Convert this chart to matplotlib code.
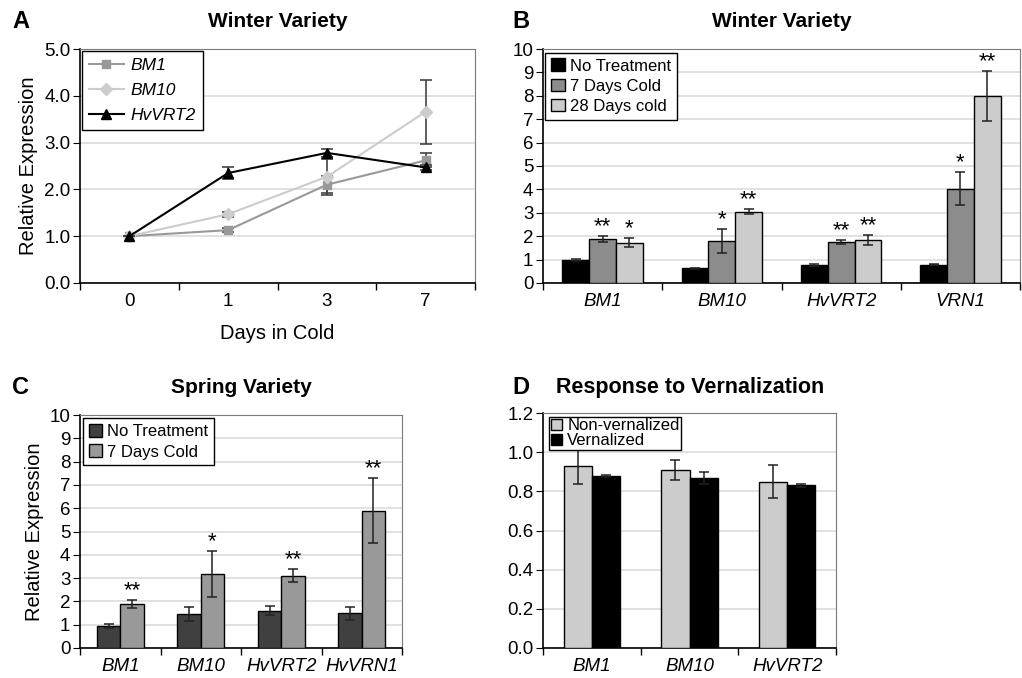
import numpy as np
import matplotlib
matplotlib.use('Agg')
import matplotlib.pyplot as plt
from matplotlib.lines import Line2D

plt.rcParams['font.family'] = ['Liberation Sans', 'DejaVu Sans']

W, H = 1022, 678

# ---- Panel A: time course, winter variety ----
days = ['0', '1', '3', '7']
a_bm1 = [1.0, 1.13, 2.10, 2.62]
a_bm1_err = [0.0, 0.05, 0.18, 0.15]
a_bm10 = [1.0, 1.47, 2.27, 3.66]
a_bm10_err = [0.0, 0.05, 0.38, 0.68]
a_vrt2 = [1.0, 2.35, 2.78, 2.47]
a_vrt2_err = [0.0, 0.12, 0.08, 0.05]

# ---- Panel B: winter variety bars ----
b_genes = ['BM1', 'BM10', 'HvVRT2', 'VRN1']
b_none = [0.97, 0.63, 0.78, 0.78]
b_none_err = [0.05, 0.03, 0.05, 0.03]
b_7d = [1.87, 1.80, 1.75, 4.03]
b_7d_err = [0.13, 0.50, 0.10, 0.70]
b_28d = [1.73, 3.05, 1.83, 8.00]
b_28d_err = [0.18, 0.12, 0.22, 1.08]
b_7d_sig = ['**', '*', '**', '*']
b_28d_sig = ['*', '**', '**', '**']

# ---- Panel C: spring variety bars ----
c_genes = ['BM1', 'BM10', 'HvVRT2', 'HvVRN1']
c_none = [0.93, 1.45, 1.60, 1.50]
c_none_err = [0.08, 0.30, 0.20, 0.28]
c_7d = [1.87, 3.17, 3.10, 5.90]
c_7d_err = [0.17, 1.00, 0.27, 1.40]
c_7d_sig = ['**', '*', '**', '**']

# ---- Panel D: response to vernalization ----
d_genes = ['BM1', 'BM10', 'HvVRT2']
d_nonvern = [0.93, 0.91, 0.85]
d_nonvern_err = [0.09, 0.05, 0.085]
d_vern = [0.88, 0.87, 0.83]
d_vern_err = [0.005, 0.03, 0.008]


def px_axes(fig, left, top, right, bottom):
    return fig.add_axes([left / W, 1 - bottom / H, (right - left) / W, (bottom - top) / H])


def style_axes(ax, n, labels, italic=True):
    ax.set_xlim(-0.5, n - 0.5)
    ax.set_xticks(np.arange(n))
    ax.set_xticklabels(labels, fontsize=13.5, style='italic' if italic else 'normal')
    ax.set_xticks(np.arange(n + 1) - 0.5, minor=True)
    ax.tick_params(axis='x', which='major', length=0, pad=7)
    ax.tick_params(axis='x', which='minor', length=5, direction='out', width=1)
    ax.tick_params(axis='y', which='major', length=5, direction='out', labelsize=13.5, pad=2)
    ax.yaxis.grid(True, color='#dcdcdc', linewidth=1.2)
    ax.set_axisbelow(True)
    for s in ('top', 'right'):
        ax.spines[s].set_color('#7a7a7a')
    for s in ('left', 'bottom'):
        ax.spines[s].set_color('black')
        ax.spines[s].set_linewidth(1.2)


def box_legend(ax, x0, size, **kw):
    leg = ax.legend(loc='upper left', bbox_to_anchor=(x0, 0.985), fontsize=size, fancybox=False,
                    edgecolor='black', framealpha=1, borderaxespad=0, **kw)
    leg.get_frame().set_linewidth(1.0)
    return leg


fig = plt.figure(figsize=(W / 100, H / 100), dpi=100)

# Panel A
axA = px_axes(fig, 80, 49, 475, 283)
x = np.arange(len(days))
err_kw = dict(ecolor='#444444', elinewidth=1.2, capsize=4, capthick=1.2)
axA.errorbar(x, a_bm1, yerr=a_bm1_err, color='#999999', marker='s', ms=6, lw=1.5, **err_kw, zorder=3)
axA.errorbar(x, a_bm10, yerr=a_bm10_err, color='#cccccc', marker='D', ms=6, lw=1.5, **err_kw, zorder=3)
axA.errorbar(x, a_vrt2, yerr=a_vrt2_err, color='black', marker='^', ms=7, lw=1.5, **err_kw, zorder=4)
style_axes(axA, len(days), days, italic=False)
axA.set_ylim(0, 5)
axA.set_yticks(np.arange(0, 5.01, 1))
axA.set_yticklabels([f'{v:.1f}' for v in np.arange(0, 5.01, 1)])
axA.set_ylabel('Relative Expression', fontsize=14.5)
axA.set_xlabel('Days in Cold', fontsize=14.5, labelpad=10)
handles = [Line2D([], [], color='#999999', marker='s', ms=6, lw=1.5),
           Line2D([], [], color='#cccccc', marker='D', ms=6, lw=1.5),
           Line2D([], [], color='black', marker='^', ms=7, lw=1.5)]
legA = axA.legend(handles, ['BM1', 'BM10', 'HvVRT2'], loc='upper left', bbox_to_anchor=(0.005, 0.99),
                  prop={'style': 'italic', 'size': 12.5}, fancybox=False, edgecolor='black',
                  framealpha=1, borderaxespad=0, handlelength=2.0, labelspacing=0.55,
                  handletextpad=0.4)
legA.get_frame().set_linewidth(1.0)
axA.set_title('Winter Variety', fontsize=15, fontweight='bold', pad=16)

# Panel B
axB = px_axes(fig, 543, 49, 1020, 283)
xb = np.arange(len(b_genes))
wb = 0.225
bar_kw = dict(edgecolor='black', linewidth=1.0, zorder=3)
ebar_kw = dict(fmt='none', ecolor='#222222', elinewidth=1.1, capsize=3.5, capthick=1.1, zorder=4)
axB.bar(xb - wb, b_none, wb, color='black', label='No Treatment', **bar_kw)
axB.bar(xb, b_7d, wb, color='#8c8c8c', label='7 Days Cold', **bar_kw)
axB.bar(xb + wb, b_28d, wb, color='#cccccc', label='28 Days cold', **bar_kw)
axB.errorbar(xb - wb, b_none, yerr=b_none_err, **ebar_kw)
axB.errorbar(xb, b_7d, yerr=b_7d_err, **ebar_kw)
axB.errorbar(xb + wb, b_28d, yerr=b_28d_err, **ebar_kw)
for i in range(len(b_genes)):
    axB.text(xb[i], b_7d[i] + b_7d_err[i] - 0.05, b_7d_sig[i], ha='center', va='bottom', fontsize=16)
    axB.text(xb[i] + wb, b_28d[i] + b_28d_err[i] - 0.05, b_28d_sig[i], ha='center', va='bottom', fontsize=16)
style_axes(axB, len(b_genes), b_genes)
axB.set_ylim(0, 10)
axB.set_yticks(np.arange(0, 11, 1))
box_legend(axB, 0.005, 12, handlelength=0.8, handleheight=0.8, handletextpad=0.3,
           labelspacing=0.3, borderpad=0.35)
axB.set_title('Winter Variety', fontsize=15, fontweight='bold', pad=16)

# Panel C
axC = px_axes(fig, 80, 415, 402, 648)
xc = np.arange(len(c_genes))
wc = 0.29
axC.bar(xc - wc / 2, c_none, wc, color='#404040', label='No Treatment', **bar_kw)
axC.bar(xc + wc / 2, c_7d, wc, color='#999999', label='7 Days Cold', **bar_kw)
axC.errorbar(xc - wc / 2, c_none, yerr=c_none_err, **ebar_kw)
axC.errorbar(xc + wc / 2, c_7d, yerr=c_7d_err, **ebar_kw)
for i in range(len(c_genes)):
    axC.text(xc[i] + wc / 2, c_7d[i] + c_7d_err[i] - 0.05, c_7d_sig[i], ha='center', va='bottom', fontsize=16)
style_axes(axC, len(c_genes), c_genes)
axC.set_ylim(0, 10)
axC.set_yticks(np.arange(0, 11, 1))
axC.set_ylabel('Relative Expression', fontsize=14.5)
box_legend(axC, 0.01, 12, handlelength=0.8, handleheight=0.8, handletextpad=0.3,
           labelspacing=0.3, borderpad=0.35)
axC.set_title('Spring Variety', fontsize=15, fontweight='bold', pad=16)

# Panel D
axD = px_axes(fig, 543, 413, 836, 648)
xd = np.arange(len(d_genes))
wd = 0.288
axD.bar(xd - wd / 2, d_nonvern, wd, color='#cccccc', label='Non-vernalized', **bar_kw)
axD.bar(xd + wd / 2, d_vern, wd, color='black', label='Vernalized', **bar_kw)
axD.errorbar(xd - wd / 2, d_nonvern, yerr=d_nonvern_err, **ebar_kw)
axD.errorbar(xd + wd / 2, d_vern, yerr=d_vern_err, **ebar_kw)
style_axes(axD, len(d_genes), d_genes)
axD.set_ylim(0, 1.2)
axD.set_yticks(np.arange(0, 1.21, 0.2))
axD.set_yticklabels([f'{v:.1f}' for v in np.arange(0, 1.21, 0.2)])
box_legend(axD, 0.02, 12, handlelength=0.7, handleheight=0.7, handletextpad=0.3,
           labelspacing=0.0, borderpad=0.1)

# titles and panel letters
fig.text(556 / W, 1 - 387 / H, 'Response to Vernalization', fontsize=15.5, fontweight='bold', va='center')
for letter, xp, yp in [('A', 12, 22), ('B', 512, 22), ('C', 12, 387), ('D', 512, 387)]:
    fig.text(xp / W, 1 - yp / H, letter, fontsize=17, fontweight='bold', va='center')

fig.savefig('out.png', dpi=100)
